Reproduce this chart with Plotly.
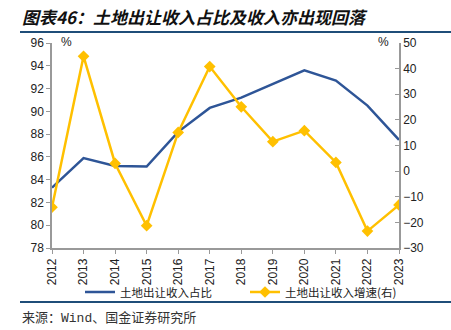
import plotly.graph_objects as go

years = [str(y) for y in range(2012, 2024)]
share = [83.3, 85.9, 85.2, 85.15, 88.2, 90.3, 91.2, 92.4, 93.6, 92.7, 90.5, 87.5]
growth = [-14.1, 44.8, 3.0, -21.3, 15.1, 40.8, 25.1, 11.5, 15.8, 3.4, -23.4, -13.2]

W, H = 451, 330
L, R, T, B = 52, 52, 43, 82
pw, ph = W - L - R, H - T - B

def px(x):
    return (x - L) / pw

def py(y):
    return (H - B - y) / ph

fig = go.Figure()
fig.add_trace(go.Scatter(x=years, y=share, mode="lines", name="土地出让收入占比",
                         line=dict(color="#2E5597", width=2.5)))
fig.add_trace(go.Scatter(x=years, y=growth, mode="lines+markers", name="土地出让收入增速(右)",
                         yaxis="y2", line=dict(color="#FFC000", width=2.5),
                         marker=dict(symbol="diamond", size=9, color="#FFC000")))

tickfont = dict(family="Liberation Sans, Arial", size=12, color="#222")
fig.update_layout(
    width=W, height=H, margin=dict(l=L, r=R, t=T, b=B),
    paper_bgcolor="white", plot_bgcolor="white", template="none",
    showlegend=True,
    legend=dict(orientation="h", x=px(80), xanchor="left", y=py(292), yanchor="middle",
                font=dict(family="Noto Sans CJK SC", size=11.5, color="#222"),
                itemwidth=30, entrywidth=120, bgcolor="rgba(0,0,0,0)", tracegroupgap=0),
    xaxis=dict(type="category", range=[0, 11], showgrid=False, showline=True,
               linecolor="#999", linewidth=1.5, ticks="outside", ticklen=4, tickcolor="#999",
               tickangle=-90, tickfont=tickfont, zeroline=False),
    yaxis=dict(range=[78, 96], dtick=2, showgrid=False, showline=True, linecolor="#999",
               linewidth=1.5, ticks="outside", ticklen=4, tickcolor="#999",
               tickfont=tickfont, zeroline=False),
    yaxis2=dict(range=[-30, 50], dtick=10, overlaying="y", side="right", showgrid=False,
                showline=True, linecolor="#999", linewidth=1.5, ticks="inside", ticklen=4,
                tickcolor="#999", tickfont=tickfont, zeroline=False),
    font=dict(family="Noto Sans CJK SC"),
)

fig.add_annotation(text="<b><i>图表46：土地出让收入占比及收入亦出现回落</i></b>", xref="paper", yref="paper",
                   x=px(20), y=py(16), xanchor="left", yanchor="middle", showarrow=False,
                   font=dict(family="Noto Sans CJK SC", size=17, color="#111"))
fig.add_annotation(text="来源：Wind、国金证券研究所", xref="paper", yref="paper",
                   x=px(20), y=py(318), xanchor="left", yanchor="middle", showarrow=False,
                   font=dict(family="Liberation Mono, Noto Sans CJK SC", size=13, color="#333"))
fig.add_annotation(text="%", xref="paper", yref="paper", x=px(66), y=py(42),
                   xanchor="center", yanchor="middle", showarrow=False,
                   font=dict(family="Liberation Sans", size=12, color="#222"))
fig.add_annotation(text="%", xref="paper", yref="paper", x=px(383), y=py(42),
                   xanchor="center", yanchor="middle", showarrow=False,
                   font=dict(family="Liberation Sans", size=12, color="#222"))

for yy in (32, 302):
    fig.add_shape(type="line", xref="paper", yref="paper", x0=px(20), x1=px(451),
                  y0=py(yy), y1=py(yy), line=dict(color="#1F4E79", width=2))

fig.write_html("out.html")
